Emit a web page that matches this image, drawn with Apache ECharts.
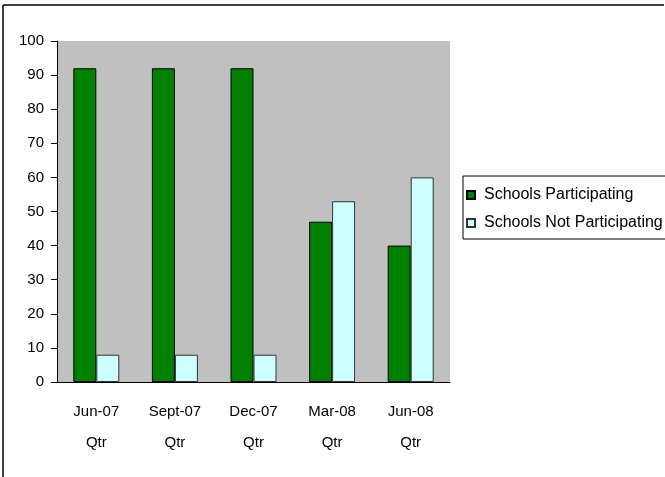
<!DOCTYPE html>
<html>
<head>
<meta charset="utf-8">
<script src="https://cdn.jsdelivr.net/npm/echarts@6/dist/echarts.min.js"></script>
<style>
  html, body { margin: 0; padding: 0; background: #fff; }
  #chart { width: 665px; height: 477px; }
</style>
</head>
<body>
<div id="chart"></div>
<script>
const categories = ['Jun-07\nQtr', 'Sept-07\nQtr', 'Dec-07\nQtr', 'Mar-08\nQtr', 'Jun-08\nQtr']
const participating = [92, 92, 92, 47, 40]
const notParticipating = [8, 8, 8, 53, 60]

const font = 'Liberation Sans, Arial, sans-serif'
const chart = echarts.init(document.getElementById('chart'))

chart.setOption({
  animation: false,
  textStyle: { fontFamily: font },
  graphic: [
    { type: 'line', shape: { x1: 3, y1: 5, x2: 664, y2: 5 }, style: { stroke: '#000', lineWidth: 1.5 } },
    { type: 'line', shape: { x1: 3, y1: 5, x2: 3, y2: 477 }, style: { stroke: '#000', lineWidth: 1.5 } }
  ],
  grid: {
    left: 57, top: 41, width: 393, height: 341,
    show: true, backgroundColor: '#c0c0c0', borderWidth: 0
  },
  legend: {
    orient: 'vertical',
    left: 463, top: 176,
    padding: [11, 40, 8, 3],
    itemWidth: 8, itemHeight: 8, itemGap: 12,
    icon: 'rect',
    borderColor: '#000', borderWidth: 1,
    textStyle: { fontSize: 16, color: '#000', fontFamily: font, padding: [0, 0, 0, 4] }
  },
  xAxis: {
    type: 'category',
    data: categories,
    axisLine: { lineStyle: { color: '#000' } },
    axisTick: { length: 5, lineStyle: { color: '#000' } },
    axisLabel: { interval: 0, color: '#000', fontSize: 15, lineHeight: 31, margin: 14, fontFamily: font }
  },
  yAxis: {
    type: 'value',
    min: 0, max: 100, interval: 10,
    splitLine: { show: false },
    axisLine: { show: true, lineStyle: { color: '#000' } },
    axisTick: { show: true, length: 6, lineStyle: { color: '#000' } },
    axisLabel: { color: '#000', fontSize: 15, margin: 13, fontFamily: font }
  },
  series: [
    {
      name: 'Schools Participating',
      type: 'bar',
      data: participating,
      barWidth: 23,
      barGap: 0,
      itemStyle: { color: '#008000', borderColor: '#000', borderWidth: 1 }
    },
    {
      name: 'Schools Not Participating',
      type: 'bar',
      data: notParticipating,
      barWidth: 23,
      itemStyle: { color: '#ccffff', borderColor: '#333', borderWidth: 1 }
    }
  ]
})
</script>
</body>
</html>
